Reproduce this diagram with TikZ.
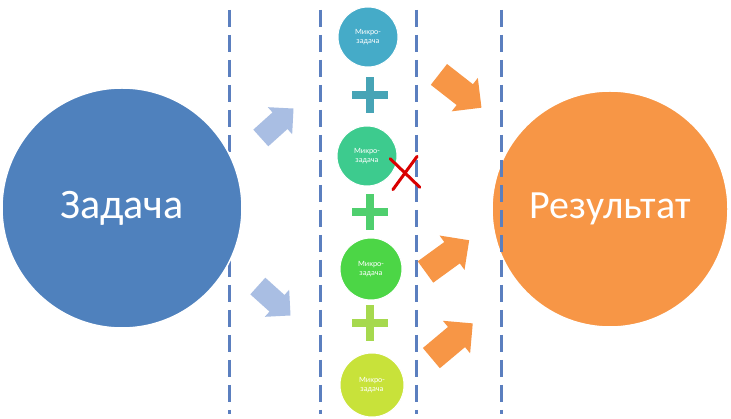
\documentclass[tikz,border=0pt]{standalone}
\usepackage{fontspec}
\setmainfont{Carlito}
\usetikzlibrary{shapes.arrows,shapes.misc}

\definecolor{taskblue}{HTML}{4F81BD}
\definecolor{resorange}{HTML}{F79646}
\definecolor{dashblue}{HTML}{5B7FBF}
\definecolor{paleblue}{HTML}{A9BEE3}
\definecolor{microA}{HTML}{45ABC8}
\definecolor{microB}{HTML}{3DCB8E}
\definecolor{microC}{HTML}{4CD646}
\definecolor{microD}{HTML}{C8E23A}
\definecolor{plusA}{HTML}{47A4B6}
\definecolor{plusB}{HTML}{4FCF6E}
\definecolor{plusC}{HTML}{A6D94E}

\begin{document}
\begin{tikzpicture}[x=1pt,y=-1pt]
\tikzstyle{big}=[circle, draw=white, line width=1.5pt, inner sep=0pt, text=white]
\tikzstyle{micro}=[circle, draw=white, line width=1pt, minimum size=60pt, inner sep=0pt, text=white, align=center, font=\fontsize{8}{9.5}\selectfont]
\tikzstyle{plus}=[cross out, draw, line width=8pt, minimum size=17pt, inner sep=0pt, rotate=45]
\tikzstyle{blk}=[single arrow, inner xsep=0pt, inner ysep=13pt, single arrow head extend=8pt, minimum height=54pt]
\tikzstyle{divider}=[dashblue, line width=3pt, dash pattern=on 17pt off 8pt]

\useasboundingbox (0,0) rectangle (731,419);
\fill[white] (0,0) rectangle (731,419);

% result sits under the dashes
\node[big, fill=resorange, minimum size=236pt, font=\fontsize{40}{46}\selectfont] (result) at (610,209) {Результат};

% dashed separators
\foreach \x [count=\i] in {229,320,416,501} {
  \coordinate (d\i t) at (\x,10);
  \coordinate (d\i b) at (\x,414);
  \draw[divider] (d\i t) -- (d\i b);
}

% task
\node[big, fill=taskblue, minimum size=240pt, font=\fontsize{42}{48}\selectfont] (task) at (122,208) {Задача};

% micro tasks
\node[micro, fill=microA] (m1) at (368,37) {Микро-\\задача};
\node[micro, fill=microB] (m2) at (367,156) {Микро-\\задача};
\node[micro, fill=microC, minimum size=62pt] (m3) at (371,269) {Микро-\\задача};
\node[micro, fill=microD, minimum size=64pt] (m4) at (372,385) {Микро-\\задача};

\node[plus, draw=plusA] (p1) at (370,95) {};
\node[plus, draw=plusB] (p2) at (370,212) {};
\node[plus, draw=plusC] (p3) at (370,323) {};

% failed step
\node[cross out, draw=red!85!black, line width=3pt, minimum width=24pt, minimum height=28pt, inner sep=0pt, line cap=round, rotate=5] (fail) at (405,173) {};

% block arrows
\node[blk, fill=paleblue, inner ysep=11pt, single arrow head extend=7pt, minimum height=44pt, rotate=42] (in1) at (273,127) {};
\node[blk, fill=paleblue, inner ysep=11pt, single arrow head extend=7pt, minimum height=44pt, rotate=-42] (in2) at (270,297) {};
\node[blk, fill=resorange, rotate=-38] (out1) at (455,87) {};
\node[blk, fill=resorange, rotate=36] (out2) at (442,260) {};
\node[blk, fill=resorange, rotate=40] (out3) at (447,345) {};
\end{tikzpicture}
\end{document}
